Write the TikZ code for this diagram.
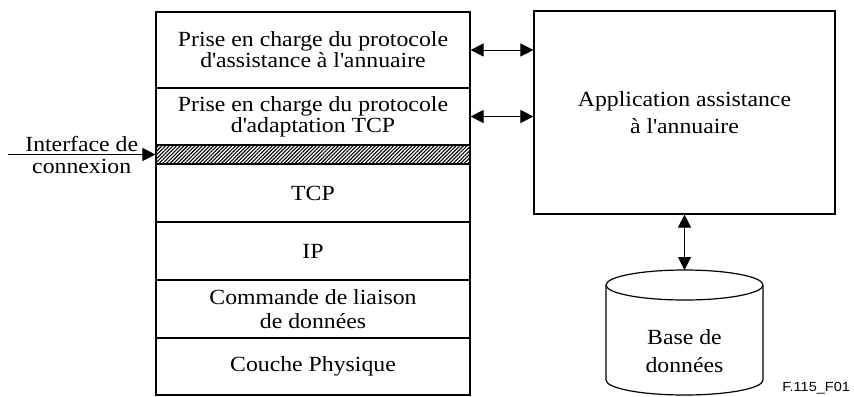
\documentclass[tikz,border=0pt]{standalone}
\usepackage{fontspec}
\setmainfont{Liberation Serif}[FakeStretch=1.1]
\newfontfamily\tagfont{Liberation Sans}[FakeStretch=1.1]
\usetikzlibrary{arrows.meta,patterns.meta}

\newcommand{\apos}{\textquotesingle}

\tikzset{
	layer/.style={draw, line width=0.6pt, minimum width=157pt, inner sep=0pt, align=center,
		font=\fontsize{10.8}{10.5}\selectfont},
	dblarrow/.style={{Triangle[length=6.5pt,width=6.5pt]}-{Triangle[length=6.5pt,width=6.5pt]}, line width=0.5pt},
	onearrow/.style={-{Triangle[length=6.5pt,width=6.5pt]}, line width=0.5pt},
	plain/.style={inner sep=0pt, align=center, font=\fontsize{10.8}{10.5}\selectfont}
}

\begin{document}
\begin{tikzpicture}[x=0.5pt, y=-0.5pt]
		%%%%% START %%%%%
		\useasboundingbox (0, 0) rectangle (854, 396);
		
		% protocol stack
		\node[layer, minimum height=38pt] (assist) at (313, 50) {Prise en charge du protocole\\d\apos assistance \`a l\apos annuaire};
		\node[layer, minimum height=28.5pt] (adapt) at (313, 116.5) {Prise en charge du protocole\\d\apos adaptation TCP};
		\node[layer, minimum height=9.5pt, pattern={Lines[angle=45, distance=1.3pt, line width=0.55pt]}] (hatch) at (313, 154.5) {};
		\node[layer, minimum height=29pt] (tcp) at (313, 193) {TCP};
		\node[layer, minimum height=29pt] (ip) at (313, 251) {IP};
		\node[layer, minimum height=29pt] (liaison) at (313, 309) {Commande de liaison\\[1.5pt]de donn\'ees};
		\node[layer, minimum height=28.5pt] (physique) at (313, 366.5) {Couche Physique};
		
		% application box
		\node[layer, minimum width=150.5pt, minimum height=101.5pt] (app) at (684.5, 112.5) {Application assistance\\[3pt]\`a l\apos annuaire};
		
		\draw[dblarrow] (assist.east) -- (assist.east -| app.west);
		\draw[dblarrow] (adapt.east) -- (adapt.east -| app.west);
		
		% connection interface
		\coordinate (ifc) at (8, 154.5);
		\draw[onearrow] (ifc) -- node[plain] (ifclabel) {Interface de\\[0.5pt]connexion} (hatch.west);
		
		% database
		\coordinate (dbtop) at (684.5, 270);
		\draw[line width=0.6pt] (684.5, 285) ellipse [x radius=39.25pt, y radius=7.5pt];
		\draw[line width=0.6pt] (606, 285) -- (606, 380) arc [start angle=180, end angle=360, x radius=39.25pt, y radius=7.5pt] -- (763, 285);
		\node[plain] (db) at (684.5, 351) {Base de\\[3.5pt]donn\'ees};
		\draw[dblarrow] (app.south) -- (dbtop);
		
		\node[anchor=base west, inner sep=0pt, font=\tagfont\fontsize{6.6}{7}\selectfont] (tag) at (782, 391) {F.115\_F01};
		%%%%% END %%%%%
\end{tikzpicture}
\end{document}
